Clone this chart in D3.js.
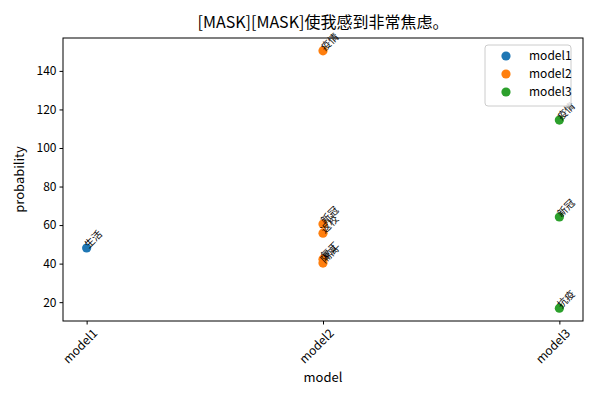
<!DOCTYPE html>
<html>
<head>
<meta charset="utf-8">
<script src="https://cdn.jsdelivr.net/npm/d3@7"></script>
<style>
  body { margin: 0; background: #fff; }
  text { font-family: "Liberation Sans Narrow", "Noto Sans CJK SC", "DejaVu Sans", sans-serif; }
</style>
</head>
<body>
<div id="chart-area"></div>
<script>
// Data
var models = ["model1", "model2", "model3"];
var colors = ["#1f77b4", "#ff7f0e", "#2ca02c"];
var pointModel = ["model1", "model2", "model2", "model2", "model2", "model2", "model3", "model3", "model3"];
var pointWord  = ["生活", "疫情", "新冠", "返校", "复工", "隔离", "疫情", "新冠", "抗疫"];
var pointProb  = [48.1, 150.4, 60.5, 55.8, 42.3, 40.3, 114.5, 64.2, 16.9];
var yTicks = [20, 40, 60, 80, 100, 120, 140];

var margin = { left: 63, right: 17, top: 38, bottom: 79 },
    width = 600 - margin.left - margin.right,
    height = 400 - margin.top - margin.bottom;

var svg = d3.select("#chart-area").append("svg")
    .attr("width", 600)
    .attr("height", 400);

var g = svg.append("g")
    .attr("transform", "translate(" + margin.left + "," + margin.top + ")");

// Scales
var x = d3.scaleLinear().domain([-0.1, 2.1]).range([0, width]);
var yMin = d3.min(pointProb), yMax = d3.max(pointProb), pad = (yMax - yMin) * 0.05;
var y = d3.scaleLinear().domain([yMin - pad, yMax + pad]).range([height, 0]);
var colour = d3.scaleOrdinal().domain(models).range(colors);

// Axes
var xAxis = g.append("g")
    .attr("transform", "translate(0," + height + ")")
    .call(d3.axisBottom(x).tickValues([0, 1, 2])
        .tickFormat(function(d) { return models[d]; })
        .tickSizeOuter(0).tickSize(3.5).tickPadding(3));
xAxis.selectAll(".tick text")
    .attr("font-size", 12)
    .attr("text-anchor", "end")
    .attr("dy", "0.3em")
    .attr("transform", "translate(4,6) rotate(-45)");

var yAxis = g.append("g")
    .call(d3.axisLeft(y).tickValues(yTicks).tickSizeOuter(0).tickSize(3.5).tickPadding(3));
yAxis.selectAll(".tick text").attr("font-size", 12);

g.selectAll(".domain").remove();
g.append("rect")
    .attr("width", width).attr("height", height)
    .attr("fill", "none").attr("stroke", "#000").attr("stroke-width", 1);

// Axis labels and title
svg.append("text")
    .attr("x", margin.left + width / 2).attr("y", 382)
    .attr("text-anchor", "middle").attr("font-size", 13)
    .text("model");
svg.append("text")
    .attr("transform", "translate(24," + (margin.top + height / 2) + ") rotate(-90)")
    .attr("text-anchor", "middle").attr("font-size", 13)
    .text("probability");
svg.append("text")
    .attr("x", margin.left + width / 2).attr("y", 28)
    .attr("text-anchor", "middle").attr("font-size", 16)
    .text("[MASK][MASK]使我感到非常焦虑。");

// Points
var idx = d3.range(pointProb.length);
g.selectAll(".dot").data(idx).enter().append("circle")
    .attr("cx", function(i) { return x(models.indexOf(pointModel[i])); })
    .attr("cy", function(i) { return y(pointProb[i]); })
    .attr("r", 4.6)
    .attr("fill", function(i) { return colour(pointModel[i]); });

// Word labels
g.selectAll(".word").data(idx).enter().append("text")
    .attr("font-size", 10)
    .attr("transform", function(i) {
        return "translate(" + x(models.indexOf(pointModel[i])) + "," + y(pointProb[i]) + ") rotate(-45)";
    })
    .attr("x", 1).attr("dy", "0.2em")
    .text(function(i) { return pointWord[i]; });

// Legend
var legend = g.append("g").attr("transform", "translate(" + (width - 98) + ",7)");
legend.append("rect")
    .attr("width", 86).attr("height", 61).attr("rx", 3)
    .attr("fill", "#fff").attr("fill-opacity", 0.8)
    .attr("stroke", "#ccc");
models.forEach(function(m, k) {
    legend.append("circle")
        .attr("cx", 21).attr("cy", 11 + k * 18).attr("r", 4.6)
        .attr("fill", colour(m));
    legend.append("text")
        .attr("x", 44).attr("y", 11 + k * 18).attr("dy", "0.35em")
        .attr("font-size", 12)
        .text(m);
});
</script>
</body>
</html>
